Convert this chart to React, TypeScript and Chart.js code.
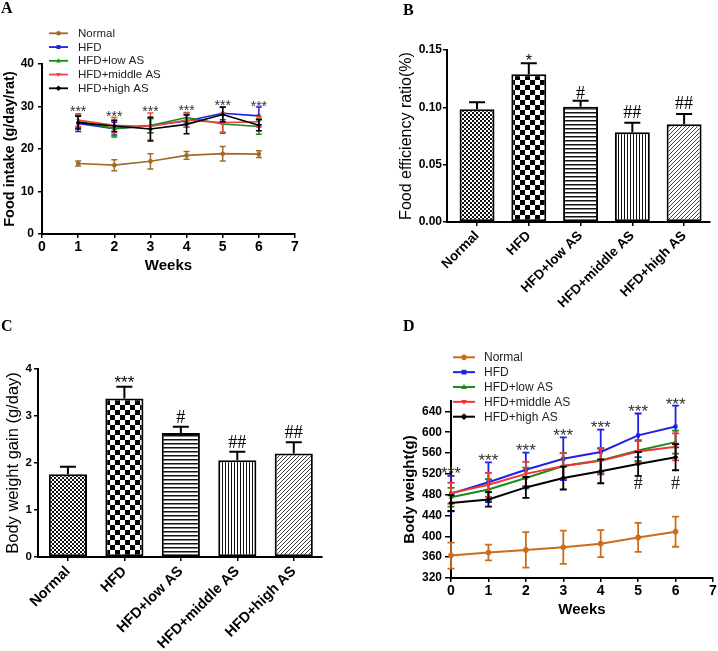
import React, { useEffect, useRef } from 'react';
import { Chart, registerables } from 'chart.js';

Chart.register(...registerables);

const SANS = "'Liberation Sans', Arial, Helvetica, sans-serif";
const SERIF = "'Liberation Serif', 'Times New Roman', Times, serif";

// ===== Groups shared by all panels
const groupNames = ['Normal', 'HFD', 'HFD+low AS', 'HFD+middle AS', 'HFD+high AS'];
const groupMarkers = ['circle', 'rect', 'triangle', 'triangleDown', 'rectRot'];

// ===== Panel A: food intake (g/day/rat)
const intakeWeeks = [1, 2, 3, 4, 5, 6];
const intakeNormal = [16.6, 16.2, 17.1, 18.5, 18.9, 18.8];
const intakeNormalErr = [0.6, 1.3, 1.8, 0.9, 1.7, 0.8];
const intakeHFD = [26.0, 24.8, 25.5, 26.6, 28.4, 27.8];
const intakeHFDErr = [1.9, 1.5, 1.7, 1.5, 1.5, 2.1];
const intakeLow = [26.5, 24.8, 25.5, 27.4, 25.9, 25.3];
const intakeLowErr = [1.5, 2.0, 1.7, 1.2, 2.2, 1.8];
const intakeMid = [26.8, 25.6, 25.3, 26.8, 26.2, 26.4];
const intakeMidErr = [1.5, 1.8, 3.2, 1.7, 2.2, 1.2];
const intakeHigh = [26.2, 25.4, 24.7, 25.8, 28.1, 25.6];
const intakeHighErr = [1.5, 1.3, 2.8, 2.2, 1.7, 1.3];
const intakeStars = ['***', '***', '***', '***', '***', '***'];
const intakeStarY = [29.6, 28.5, 29.6, 29.8, 31.1, 30.9];

// ===== Panel B: food efficiency ratio (%)
const ferValues = [0.0983, 0.1288, 0.1006, 0.0782, 0.0852];
const ferErr = [0.0061, 0.0096, 0.0052, 0.0084, 0.009];
const ferMarks = ['', '*', '#', '##', '##'];
const ferMarkY = [0, 0.1439, 0.1127, 0.0959, 0.1035];

// ===== Panel C: body weight gain (g/day)
const gainValues = [1.76, 3.37, 2.64, 2.06, 2.2];
const gainErr = [0.16, 0.25, 0.13, 0.18, 0.24];
const gainMarks = ['', '***', '#', '##', '##'];
const gainMarkY = [0, 3.8, 2.985, 2.46, 2.66];

// ===== Panel D: body weight (g)
const bwWeeks = [0, 1, 2, 3, 4, 5, 6];
const bwNormal = [363, 369, 374, 379, 386, 398, 409];
const bwNormalErr = [25, 15, 34, 32, 26, 28, 29];
const bwHFD = [482, 504, 528, 549, 562, 594, 611];
const bwHFDErr = [34, 38, 33, 41, 43, 42, 40];
const bwLow = [475, 490, 512, 535, 546, 565, 581];
const bwLowErr = [18, 20, 20, 25, 22, 20, 22];
const bwMid = [483, 499, 520, 535, 545, 563, 572];
const bwMidErr = [20, 23, 23, 25, 25, 20, 26];
const bwHigh = [464, 471, 494, 512, 525, 539, 552];
const bwHighErr = [15, 14, 20, 22, 23, 23, 25];
const bwStarY = [528, 554, 573, 602, 618, 647, 662];
const bwHashWeeks = [5, 6];
const bwHashY = [502, 502];

// ===== styles
const colorsA = ['#9e6b2b', '#2020e8', '#1a8a1a', '#f04545', '#000000'];
const colorsD = ['#cc6d1c', '#2020e8', '#1a8a1a', '#f03535', '#000000'];

type Mark = { x: number; y: number; text: string; kind: 'star' | 'hash'; size: number; color: string };

function drawMarker(ctx: CanvasRenderingContext2D, style: string, x: number, y: number, r: number, color: string) {
  ctx.fillStyle = color;
  ctx.beginPath();
  if (style === 'circle') ctx.arc(x, y, r, 0, Math.PI * 2);
  else if (style === 'rect') ctx.rect(x - r * 0.85, y - r * 0.85, r * 1.7, r * 1.7);
  else if (style === 'triangle') { ctx.moveTo(x, y - r * 1.1); ctx.lineTo(x + r, y + r * 0.7); ctx.lineTo(x - r, y + r * 0.7); }
  else if (style === 'triangleDown') { ctx.moveTo(x, y + r * 1.1); ctx.lineTo(x + r, y - r * 0.7); ctx.lineTo(x - r, y - r * 0.7); }
  else { ctx.moveTo(x, y - r * 1.2); ctx.lineTo(x + r * 1.2, y); ctx.lineTo(x, y + r * 1.2); ctx.lineTo(x - r * 1.2, y); }
  ctx.closePath();
  ctx.fill();
}

function lineErrorPlugin(lw: number, capHalf: number) {
  return {
    id: 'lineErr',
    beforeDatasetDraw(chart: any, args: any) {
      const ds = chart.data.datasets[args.index];
      const errs: number[] = ds.errors;
      if (!errs) return;
      const { ctx } = chart;
      const xs = chart.scales.x, ys = chart.scales.y;
      ctx.save();
      ctx.strokeStyle = ds.borderColor;
      ctx.lineWidth = lw;
      ds.data.forEach((p: any, j: number) => {
        const px = xs.getPixelForValue(p.x);
        const top = ys.getPixelForValue(p.y + errs[j]);
        const bot = ys.getPixelForValue(p.y - errs[j]);
        ctx.beginPath();
        ctx.moveTo(px, top); ctx.lineTo(px, bot);
        ctx.moveTo(px - capHalf, top); ctx.lineTo(px + capHalf, top);
        ctx.moveTo(px - capHalf, bot); ctx.lineTo(px + capHalf, bot);
        ctx.stroke();
      });
      ctx.restore();
    },
  };
}

function barErrorPlugin(capHalf: number) {
  return {
    id: 'barErr',
    afterDatasetsDraw(chart: any) {
      const { ctx } = chart;
      const xs = chart.scales.x, ys = chart.scales.y;
      const ds = chart.data.datasets[0];
      ctx.save();
      ctx.strokeStyle = '#000';
      ctx.lineWidth = 2;
      ds.data.forEach((p: any, j: number) => {
        const px = xs.getPixelForValue(p.x);
        const y0 = ys.getPixelForValue(p.y);
        const y1 = ys.getPixelForValue(p.y + ds.errors[j]);
        ctx.beginPath();
        ctx.moveTo(px, y0); ctx.lineTo(px, y1);
        ctx.moveTo(px - capHalf, y1); ctx.lineTo(px + capHalf, y1);
        ctx.stroke();
      });
      ctx.restore();
    },
  };
}

function sigPlugin(marks: Mark[]) {
  return {
    id: 'sig',
    afterDatasetsDraw(chart: any) {
      const { ctx } = chart;
      const xs = chart.scales.x, ys = chart.scales.y;
      ctx.save();
      ctx.textAlign = 'center';
      ctx.textBaseline = 'alphabetic';
      marks.forEach((m) => {
        if (!m.text) return;
        const px = xs.getPixelForValue(m.x);
        const py = ys.getPixelForValue(m.y);
        ctx.fillStyle = m.color;
        if (m.kind === 'star') {
          ctx.font = `${m.size}px ${SANS}`;
          ctx.fillText(m.text, px, py + 0.57 * m.size);
        } else {
          ctx.font = `${m.size}px ${SERIF}`;
          ctx.fillText(m.text, px, py + 0.34 * m.size);
        }
      });
      ctx.restore();
    },
  };
}

function legendPlugin(labels: string[], colors: string[], markers: string[], lay: { x0: number; x1: number; xt: number; y0: number; dy: number; font: number; lw: number; r: number }) {
  return {
    id: 'customLegend',
    afterDraw(chart: any) {
      const { ctx } = chart;
      ctx.save();
      labels.forEach((lab, i) => {
        const y = lay.y0 + i * lay.dy;
        ctx.strokeStyle = colors[i];
        ctx.lineWidth = lay.lw;
        ctx.beginPath();
        ctx.moveTo(lay.x0, y); ctx.lineTo(lay.x1, y);
        ctx.stroke();
        drawMarker(ctx, markers[i], (lay.x0 + lay.x1) / 2, y, lay.r, colors[i]);
        ctx.fillStyle = '#222';
        ctx.font = `${lay.font}px ${SANS}`;
        ctx.textAlign = 'left';
        ctx.textBaseline = 'middle';
        ctx.fillText(lab, lay.xt, y + 0.5);
      });
      ctx.restore();
    },
  };
}

function axis(o: any) {
  return {
    type: 'linear',
    min: o.min,
    max: o.max,
    offset: false,
    ticks: {
      stepSize: o.step,
      includeBounds: false,
      autoSkip: false,
      minRotation: o.rotation || 0,
      maxRotation: o.rotation || 0,
      padding: o.tickPad,
      color: '#000',
      font: { family: SANS, size: o.tickSize, weight: 'bold' },
      callback: o.format || ((v: number) => String(v)),
    },
    grid: { drawOnChartArea: false, drawTicks: true, tickLength: o.tickLen, color: '#000', lineWidth: 1.5, offset: false },
    border: { display: true, color: '#000', width: 2 },
    title: o.title
      ? { display: true, text: o.title.text, color: '#000', font: { family: SANS, size: o.title.size, weight: o.title.bold ? 'bold' : 'normal' }, padding: o.title.padding }
      : { display: false },
    afterFit: (s: any) => {
      if (o.horizontal) s.height = o.size;
      else s.width = o.size;
    },
  };
}

function makePattern(kind: string): CanvasPattern {
  const c = document.createElement('canvas');
  const g = c.getContext('2d')!;
  if (kind === 'fine') {
    c.width = 4; c.height = 4;
    g.fillStyle = '#fff'; g.fillRect(0, 0, 4, 4);
    g.fillStyle = '#111'; g.fillRect(0, 0, 2, 2); g.fillRect(2, 2, 2, 2);
  } else if (kind === 'check') {
    c.width = 10; c.height = 10;
    g.fillStyle = '#fff'; g.fillRect(0, 0, 10, 10);
    g.fillStyle = '#000'; g.fillRect(0, 0, 5, 5); g.fillRect(5, 5, 5, 5);
  } else if (kind === 'hline') {
    c.width = 4; c.height = 4;
    g.fillStyle = '#fff'; g.fillRect(0, 0, 4, 4);
    g.fillStyle = '#111'; g.fillRect(0, 0, 4, 1);
    g.fillStyle = '#888'; g.fillRect(0, 1, 4, 1);
  } else if (kind === 'vline') {
    c.width = 3; c.height = 3;
    g.fillStyle = '#fff'; g.fillRect(0, 0, 3, 3);
    g.fillStyle = '#111'; g.fillRect(0, 0, 1, 3);
  } else {
    c.width = 4; c.height = 4;
    g.fillStyle = '#fff'; g.fillRect(0, 0, 4, 4);
    g.fillStyle = '#444';
    g.fillRect(3, 0, 1, 1); g.fillRect(2, 1, 1, 1); g.fillRect(1, 2, 1, 1); g.fillRect(0, 3, 1, 1);
  }
  return g.createPattern(c, 'repeat')!;
}

const patternKinds = ['fine', 'check', 'hline', 'vline', 'diag'];

function makeLineChart(canvas: HTMLCanvasElement, cfg: any) {
  const datasets = cfg.series.map((s: any, i: number) => ({
    label: s.label,
    data: cfg.xs.map((x: number, j: number) => ({ x, y: s.values[j] })),
    errors: s.errors,
    borderColor: s.color,
    backgroundColor: s.color,
    pointBackgroundColor: s.color,
    pointBorderColor: s.color,
    borderWidth: cfg.lineWidth,
    pointStyle: s.marker === 'triangleDown' ? 'triangle' : s.marker,
    pointRotation: s.marker === 'triangleDown' ? 180 : 0,
    pointRadius: cfg.pointRadius,
    pointBorderWidth: 0,
    tension: 0,
    clip: false,
    order: cfg.series.length - i,
  }));
  return new Chart(canvas, {
    type: 'line',
    data: { datasets },
    options: {
      responsive: false,
      animation: false,
      devicePixelRatio: 1,
      events: [],
      layout: { padding: cfg.padding },
      plugins: { legend: { display: false }, tooltip: { enabled: false } },
      scales: { x: axis(cfg.x), y: axis(cfg.y) },
    } as any,
    plugins: [lineErrorPlugin(cfg.errLw, cfg.capHalf), sigPlugin(cfg.marks), legendPlugin(cfg.series.map((s: any) => s.label), cfg.series.map((s: any) => s.color), cfg.series.map((s: any) => s.marker), cfg.legend)] as any,
  });
}

function makeBarChart(canvas: HTMLCanvasElement, cfg: any) {
  return new Chart(canvas, {
    type: 'bar',
    data: {
      datasets: [
        {
          data: cfg.values.map((v: number, i: number) => ({ x: i, y: v })),
          errors: cfg.errors,
          backgroundColor: patternKinds.map(makePattern),
          borderColor: '#000',
          borderWidth: 2,
          borderSkipped: false,
          barPercentage: 0.675,
          categoryPercentage: 1,
        } as any,
      ],
    },
    options: {
      responsive: false,
      animation: false,
      devicePixelRatio: 1,
      events: [],
      layout: { padding: cfg.padding },
      plugins: { legend: { display: false }, tooltip: { enabled: false } },
      scales: { x: axis(cfg.x), y: axis(cfg.y) },
    } as any,
    plugins: [barErrorPlugin(8), sigPlugin(cfg.marks)] as any,
  });
}

function seriesFor(values: number[][], errors: number[][], colors: string[]) {
  return groupNames.map((label, i) => ({ label, values: values[i], errors: errors[i], color: colors[i], marker: groupMarkers[i] }));
}

export default function App() {
  const refA = useRef<HTMLCanvasElement>(null);
  const refB = useRef<HTMLCanvasElement>(null);
  const refC = useRef<HTMLCanvasElement>(null);
  const refD = useRef<HTMLCanvasElement>(null);

  useEffect(() => {
    const charts: Chart[] = [];

    charts.push(
      makeLineChart(refA.current!, {
        xs: intakeWeeks,
        series: seriesFor(
          [intakeNormal, intakeHFD, intakeLow, intakeMid, intakeHigh],
          [intakeNormalErr, intakeHFDErr, intakeLowErr, intakeMidErr, intakeHighErr],
          colorsA
        ),
        lineWidth: 1.6,
        pointRadius: 2.3,
        errLw: 1.5,
        capHalf: 3,
        padding: { left: 0, top: 64, right: 65, bottom: 0 },
        x: { min: 0, max: 7, step: 1, tickSize: 14, tickLen: 4, tickPad: 1, horizontal: true, size: 81, title: { text: 'Weeks', size: 15, bold: true, padding: { top: 0, bottom: 40 } } },
        y: { min: 0, max: 40, step: 10, tickSize: 12, tickLen: 4, tickPad: 4, horizontal: false, size: 42, title: { text: 'Food intake (g/day/rat)', size: 14.5, bold: true, padding: { top: 1.3, bottom: 0 } } },
        marks: intakeWeeks.map((w, i) => ({ x: w, y: intakeStarY[i], text: intakeStars[i], kind: 'star', size: 14, color: '#333' })),
        legend: { x0: 49, x1: 68, xt: 78, y0: 33.3, dy: 13.75, font: 11.5, lw: 1.8, r: 2.3 },
      })
    );

    charts.push(
      makeBarChart(refB.current!, {
        values: ferValues,
        errors: ferErr,
        padding: { left: 0, top: 50, right: 8, bottom: 0 },
        x: { min: -0.58, max: 4.5, step: 1, rotation: 45, tickSize: 13.5, tickLen: 4, tickPad: 2, horizontal: true, size: 93, format: (v: number) => groupNames[Math.round(v)] },
        y: { min: 0, max: 0.15, step: 0.05, tickSize: 12, tickLen: 4, tickPad: 1, horizontal: false, size: 87, format: (v: number) => v.toFixed(2), title: { text: 'Food efficiency ratio(%)', size: 16, bold: false, padding: { top: 37.4, bottom: 0 } } },
        marks: ferMarks.map((t, i) => ({ x: i, y: ferMarkY[i], text: t, kind: t.startsWith('#') ? 'hash' : 'star', size: t.startsWith('#') ? 18 : 16, color: '#000' })),
      })
    );

    charts.push(
      makeBarChart(refC.current!, {
        values: gainValues,
        errors: gainErr,
        padding: { left: 0, top: 54, right: 38, bottom: 0 },
        x: { min: -0.53, max: 4.5, step: 1, rotation: 45, tickSize: 14.5, tickLen: 4, tickPad: 2, horizontal: true, size: 94, format: (v: number) => groupNames[Math.round(v)] },
        y: { min: 0, max: 4, step: 1, tickSize: 11.5, tickLen: 4, tickPad: 2, horizontal: false, size: 38, title: { text: 'Body weight gain (g/day)', size: 16.5, bold: false, padding: { top: 3.1, bottom: 0 } } },
        marks: gainMarks.map((t, i) => ({ x: i, y: gainMarkY[i], text: t, kind: t.startsWith('#') ? 'hash' : 'star', size: t.startsWith('#') ? 18 : 17, color: '#000' })),
      })
    );

    charts.push(
      makeLineChart(refD.current!, {
        xs: bwWeeks,
        series: seriesFor(
          [bwNormal, bwHFD, bwLow, bwMid, bwHigh],
          [bwNormalErr, bwHFDErr, bwLowErr, bwMidErr, bwHighErr],
          colorsD
        ),
        lineWidth: 2,
        pointRadius: 2.8,
        errLw: 1.8,
        capHalf: 3.5,
        padding: { left: 0, top: 86, right: 5, bottom: 0 },
        x: { min: 0, max: 7, step: 1, tickSize: 14, tickLen: 4, tickPad: 1, horizontal: true, size: 73, title: { text: 'Weeks', size: 15, bold: true, padding: { top: 0, bottom: 32 } } },
        y: { min: 320, max: 660, step: 40, tickSize: 12, tickLen: 6, tickPad: 3, horizontal: false, size: 91, title: { text: 'Body weight(g)', size: 15, bold: true, padding: { top: 41, bottom: 0 } } },
        marks: [
          ...bwWeeks.map((w, i) => ({ x: w, y: bwStarY[i], text: '***', kind: 'star', size: 17, color: '#333' })),
          ...bwHashWeeks.map((w, i) => ({ x: w, y: bwHashY[i], text: '#', kind: 'hash', size: 18, color: '#222' })),
        ],
        legend: { x0: 93, x1: 115, xt: 124, y0: 42.3, dy: 14.85, font: 12, lw: 2, r: 2.8 },
      })
    );

    return () => charts.forEach((c) => c.destroy());
  }, []);

  const letter = (left: number, top: number): React.CSSProperties => ({
    position: 'absolute',
    left,
    top,
    fontFamily: SERIF,
    fontWeight: 'bold',
    fontSize: 16,
    lineHeight: '16px',
    color: '#000',
  });

  return (
    <div style={{ position: 'fixed', left: 0, top: 0, width: 718, height: 651, background: '#fff', overflow: 'hidden' }}>
      <canvas ref={refA} width={360} height={315} style={{ position: 'absolute', left: 0, top: 0 }} />
      <canvas ref={refB} width={358} height={315} style={{ position: 'absolute', left: 360, top: 0 }} />
      <canvas ref={refC} width={360} height={336} style={{ position: 'absolute', left: 0, top: 315 }} />
      <canvas ref={refD} width={358} height={336} style={{ position: 'absolute', left: 360, top: 315 }} />
      <div style={letter(1, 0)}>A</div>
      <div style={letter(403, 2)}>B</div>
      <div style={letter(1, 318)}>C</div>
      <div style={letter(403, 318)}>D</div>
    </div>
  );
}
